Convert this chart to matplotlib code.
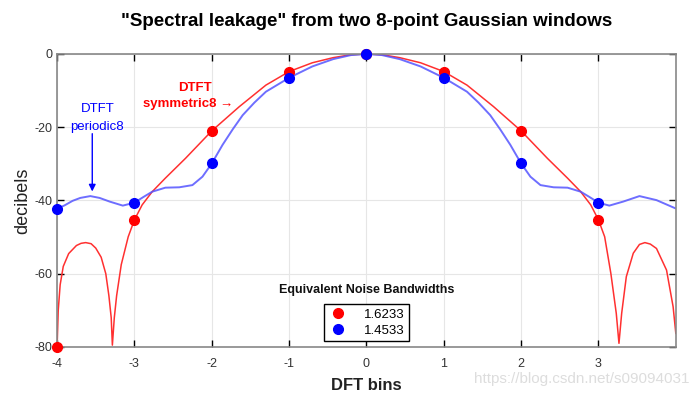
import matplotlib.pyplot as plt
from matplotlib.lines import Line2D

plt.rcParams['font.family'] = ['Liberation Sans', 'DejaVu Sans']
plt.rcParams['axes.unicode_minus'] = False

# DTFT curves (DFT bins, dB)
sym_x = [-4.0, -3.985, -3.96, -3.92, -3.85, -3.75, -3.69, -3.63, -3.56, -3.5, -3.43, -3.37,
         -3.33, -3.30, -3.285, -3.26, -3.23, -3.17, -3.08, -3.0, -2.9, -2.77, -2.6, -2.34,
         -2.0, -1.645, -1.3, -1.0, -0.7, -0.43, -0.2, 0.0, 0.2, 0.43, 0.7, 1.0, 1.3,
         1.645, 2.0, 2.34, 2.6, 2.77, 2.9, 3.0, 3.08, 3.16, 3.23, 3.265, 3.30, 3.36,
         3.45, 3.53, 3.6, 3.67, 3.75, 3.88, 3.965, 4.0]
sym_db = [-80, -70, -63, -58, -54.5, -52.3, -51.7, -51.5, -51.8, -53, -55.5, -60,
          -66, -72, -79.5, -72, -66, -57.5, -49.9, -45.3, -41.2, -37.6, -33.9, -28.5,
          -21, -14.4, -8.5, -4.8, -2.4, -1.0, -0.2, 0, -0.2, -1.0, -2.4, -4.8, -8.5,
          -14.4, -21, -28.5, -33.9, -37.6, -41.2, -45.3, -49.9, -59.9, -70.8, -79, -70.8, -60.8,
          -54.4, -52.0, -51.5, -51.9, -53.1, -59, -69, -76.3]

per_x = [-4.0, -3.9, -3.8, -3.7, -3.57, -3.45, -3.32, -3.15, -3.0, -2.88, -2.77, -2.6,
         -2.42, -2.25, -2.12, -2.0, -1.86, -1.73, -1.6, -1.45, -1.3, -1.0, -0.7, -0.43, -0.2,
         0.0, 0.2, 0.43, 0.7, 1.0, 1.3, 1.45, 1.6, 1.73, 1.86, 2.0, 2.12, 2.25, 2.42, 2.6,
         2.77, 2.88, 3.0, 3.14, 3.32, 3.53, 3.75, 3.99]
per_db = [-42.3, -41.3, -40.1, -39.3, -38.8, -39.3, -40.3, -41.4, -40.6, -39, -37.6, -36.5,
          -36.4, -35.8, -33.5, -29.9, -24.8, -20.6, -16.7, -13.3, -10.3, -6.5, -3.4, -1.4, -0.3,
          0, -0.3, -1.4, -3.4, -6.5, -10.3, -13.3, -16.7, -20.6, -24.8, -29.9, -33.5, -35.8,
          -36.4, -36.5, -37.6, -39, -40.6, -41.4, -40.3, -38.8, -39.9, -42.1]

# DFT samples (dots)
bins = [-4, -3, -2, -1, 0, 1, 2, 3]
sym_dft = [-80, -45.3, -21, -5, 0, -5, -21, -45.3]
per_dft = [-42.3, -40.6, -29.9, -6.5, 0, -6.5, -29.9, -40.6]
enbw = ['1.6233', '1.4533']

fig = plt.figure(figsize=(6.96, 3.97), dpi=100)
ax = fig.add_axes([0.082, 0.126, 0.889, 0.738])

ax.plot(sym_x, sym_db, color='#ff3030', lw=1.1)
ax.plot(per_x, per_db, color='#5555ff', lw=1.4, alpha=0.85)
ax.plot(bins, sym_dft, 'o', color='red', ms=7, clip_on=False, zorder=5)
ax.plot(bins, per_dft, 'o', color='blue', ms=7, clip_on=False, zorder=6)

ax.set_xlim(-4, 4)
ax.set_ylim(-80, 0)
ax.set_xticks(bins)
ax.set_yticks([-80, -60, -40, -20, 0])
ax.tick_params(direction='in', top=True, right=True, length=5, width=1,
               labelsize=9, labelcolor='#333333', color='black')
ax.tick_params(axis='x', pad=8)
ax.grid(True, color='#e6e6e6', lw=0.8)
for s in ax.spines.values():
    s.set_color('#888888')
    s.set_linewidth(1.2)

ax.set_title('"Spectral leakage" from two 8-point Gaussian windows',
             fontsize=13.5, fontweight='bold', pad=20)
ax.set_xlabel('DFT bins', fontsize=12, fontweight='bold', color='#222222', labelpad=6)
ax.set_ylabel('decibels', fontsize=13, color='#222222', labelpad=2)

# annotations
ax.text(-3.47, -15, 'DTFT', color='blue', fontsize=9.5, ha='center', va='center')
ax.text(-3.49, -20, 'periodic8', color='blue', fontsize=9.5, ha='center', va='center')
ax.annotate('', xy=(-3.545, -38.3), xytext=(-3.545, -21),
            arrowprops=dict(arrowstyle='-|>', color='blue', lw=1, mutation_scale=10))
ax.text(-2.22, -9.3, 'DTFT', color='red', fontsize=9.5, fontweight='bold',
        ha='center', va='center')
ax.text(-2.30, -13.7, 'symmetric8 \u2192', color='red', fontsize=9.5, fontweight='bold',
        ha='center', va='center')

# legend
ax.text(0, -64.4, 'Equivalent Noise Bandwidths', fontsize=9, fontweight='bold',
        ha='center', va='center', color='#111111')
handles = [Line2D([], [], ls='', marker='o', color='red', ms=7),
           Line2D([], [], ls='', marker='o', color='blue', ms=7)]
leg = ax.legend(handles, enbw, loc='upper center', bbox_to_anchor=(0.5, 0.168),
                fontsize=9.5, fancybox=False, framealpha=1, edgecolor='black',
                borderpad=0.3, handletextpad=1.2, labelspacing=0.3, handlelength=1.5)
leg.get_frame().set_linewidth(1)

fig.text(0.99, 0.045, 'https://blog.csdn.net/s09094031', color='#dddddd',
         fontsize=11, ha='right', va='center')

fig.savefig('out.png', dpi=100)
